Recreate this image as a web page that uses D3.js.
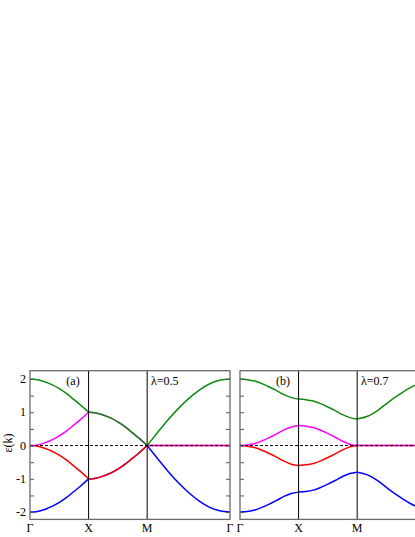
<!DOCTYPE html>
<html>
<head>
<meta charset="utf-8">
<script src="https://cdn.jsdelivr.net/npm/d3@7"></script>
<style>
  body { margin: 0; background: #fff; }
  text { font-family: "Liberation Serif", "DejaVu Serif", serif; }
</style>
</head>
<body>
<div id="container"></div>
<script>
// path coordinate: Γ=0, X=1, M=2, Γ=2+√2
const kPath = [0, 0.125, 0.25, 0.375, 0.5, 0.625, 0.75, 0.875, 1,
  1.125, 1.25, 1.375, 1.5, 1.625, 1.75, 1.875, 2,
  2.177, 2.354, 2.530, 2.707, 2.884, 3.061, 3.237, 3.414]
const kTicks = [0, 1, 2, 3.414]
const kLabels = ["Γ", "X", "M", "Γ"]
const yTicks = [-2, -1, 0, 1, 2]

// panel (a), λ=0.5
const aGreen = [2, 1.98, 1.92, 1.83, 1.71, 1.56, 1.38, 1.20, 1.00, 0.98, 0.92, 0.83, 0.71, 0.56, 0.38, 0.20, 0,
  0.39, 0.77, 1.11, 1.41, 1.66, 1.85, 1.96, 2]
const aMagenta = [0, 0.02, 0.08, 0.17, 0.29, 0.44, 0.62, 0.80, 1.00, 0.98, 0.92, 0.83, 0.71, 0.56, 0.38, 0.20, 0,
  0, 0, 0, 0, 0, 0, 0, 0]
const aRed = [0, -0.02, -0.08, -0.17, -0.29, -0.44, -0.62, -0.80, -1.00, -0.98, -0.92, -0.83, -0.71, -0.56, -0.38, -0.20, 0,
  0, 0, 0, 0, 0, 0, 0, 0]
const aBlue = [-2, -1.98, -1.92, -1.83, -1.71, -1.56, -1.38, -1.20, -1.00, -0.98, -0.92, -0.83, -0.71, -0.56, -0.38, -0.20, 0,
  -0.39, -0.77, -1.11, -1.41, -1.66, -1.85, -1.96, -2]

// panel (b), λ=0.7
const bGreen = [2, 1.98, 1.94, 1.86, 1.76, 1.65, 1.53, 1.44, 1.40, 1.38, 1.34, 1.26, 1.16, 1.05, 0.93, 0.84, 0.80,
  0.88, 1.06, 1.30, 1.52, 1.72, 1.87, 1.97, 2.00]
const bMagenta = [0, 0.02, 0.06, 0.14, 0.24, 0.35, 0.47, 0.56, 0.60, 0.58, 0.54, 0.46, 0.36, 0.25, 0.13, 0.04, 0,
  0, 0, 0, 0, 0, 0, 0, 0]
const bRed = [0, -0.02, -0.06, -0.14, -0.24, -0.35, -0.47, -0.56, -0.60, -0.58, -0.54, -0.46, -0.36, -0.25, -0.13, -0.04, 0,
  0, 0, 0, 0, 0, 0, 0, 0]
const bBlue = [-2, -1.98, -1.94, -1.86, -1.76, -1.65, -1.53, -1.44, -1.40, -1.38, -1.34, -1.26, -1.16, -1.05, -0.93, -0.84, -0.80,
  -0.88, -1.06, -1.30, -1.52, -1.72, -1.87, -1.97, -2.00]

const colors = { blue: "#0000ff", red: "#ff0000", magenta: "#ff00ff", green: "#118a11" }

const width = 415
const height = 537

let svg = d3.select("#container")
    .append("svg")
    .attr("width", width)
    .attr("height", height)

let yScale = d3.scaleLinear()
    .domain([-2.22, 2.25])
    .range([519.4, 370.7])

const segments = [[0, 8], [8, 16], [16, 24]]

function drawPanel(x0, bands, tag, lambdaText, showY) {
    let xScale = d3.scaleLinear()
        .domain([0, 3.414])
        .range([x0, x0 + 200])

    let g = svg.append("g")

    let line = d3.line()
        .x(d => xScale(d[0]))
        .y(d => yScale(d[1]))
        .curve(d3.curveMonotoneX)

    // bands, one path per segment so the kinks at X and M stay sharp
    bands.forEach(b => {
        segments.forEach(s => {
            const pts = []
            for (let i = s[0]; i <= s[1]; i++) pts.push([kPath[i], b.values[i]])
            g.append("path")
                .attr("d", line(pts))
                .attr("fill", "none")
                .attr("stroke", b.color)
                .attr("stroke-width", 1.5)
        })
    })

    // vertical lines at X and M
    g.selectAll(".kline")
        .data(kTicks.slice(1, 3))
        .enter().append("line")
        .attr("x1", d => xScale(d)).attr("x2", d => xScale(d))
        .attr("y1", yScale.range()[0]).attr("y2", yScale.range()[1])
        .attr("stroke", "#000")
        .attr("stroke-width", 1)

    // zero line
    g.append("line")
        .attr("x1", xScale.range()[0]).attr("x2", xScale.range()[1])
        .attr("y1", yScale(0)).attr("y2", yScale(0))
        .attr("stroke", "#000")
        .attr("stroke-width", 1)
        .attr("stroke-dasharray", "3,2")

    // inner ticks on both sides
    const minor = d3.range(-2, 2.01, 0.5)
    const leftAxis = d3.axisRight(yScale).tickValues(minor).tickSize(4).tickFormat("")
    const rightAxis = d3.axisLeft(yScale).tickValues(minor).tickSize(4).tickFormat("")
    g.append("g").attr("transform", `translate(${xScale.range()[0]},0)`).call(leftAxis)
    g.append("g").attr("transform", `translate(${xScale.range()[1]},0)`).call(rightAxis)
    g.selectAll(".domain").remove()
    g.selectAll(".tick line").attr("stroke", "#555")

    // frame
    g.append("rect")
        .attr("x", xScale.range()[0])
        .attr("y", yScale.range()[1])
        .attr("width", 200)
        .attr("height", yScale.range()[0] - yScale.range()[1])
        .attr("fill", "none")
        .attr("stroke", "#6a6a6a")
        .attr("stroke-width", 1.3)

    // k labels (the last one of panel b falls outside the picture)
    g.selectAll(".klabel")
        .data(kTicks.filter(d => xScale(d) < width))
        .enter().append("text")
        .attr("x", d => xScale(d))
        .attr("y", 532)
        .attr("text-anchor", "middle")
        .attr("font-size", 12)
        .text(d => kLabels[kTicks.indexOf(d)])

    if (showY) {
        g.selectAll(".ylabel")
            .data(yTicks)
            .enter().append("text")
            .attr("x", x0 - 4)
            .attr("y", d => yScale(d))
            .attr("dy", "0.35em")
            .attr("text-anchor", "end")
            .attr("font-size", 12)
            .text(d => d < 0 ? "-" + Math.abs(d) : d)

        svg.append("text")
            .attr("transform", "translate(12,443) rotate(-90)")
            .attr("text-anchor", "middle")
            .attr("font-size", 12)
            .text("ε(k)")
    }

    g.append("text")
        .attr("x", x0 + 43)
        .attr("y", 385)
        .attr("text-anchor", "middle")
        .attr("font-size", 12)
        .text(tag)

    g.append("text")
        .attr("x", x0 + 121)
        .attr("y", 385)
        .attr("font-size", 12)
        .text(lambdaText)
}

drawPanel(30, [
    { color: colors.blue, values: aBlue },
    { color: colors.red, values: aRed },
    { color: colors.magenta, values: aMagenta },
    { color: colors.green, values: aGreen }
], "(a)", "λ=0.5", true)

drawPanel(240, [
    { color: colors.blue, values: bBlue },
    { color: colors.red, values: bRed },
    { color: colors.magenta, values: bMagenta },
    { color: colors.green, values: bGreen }
], "(b)", "λ=0.7", false)
</script>
</body>
</html>
